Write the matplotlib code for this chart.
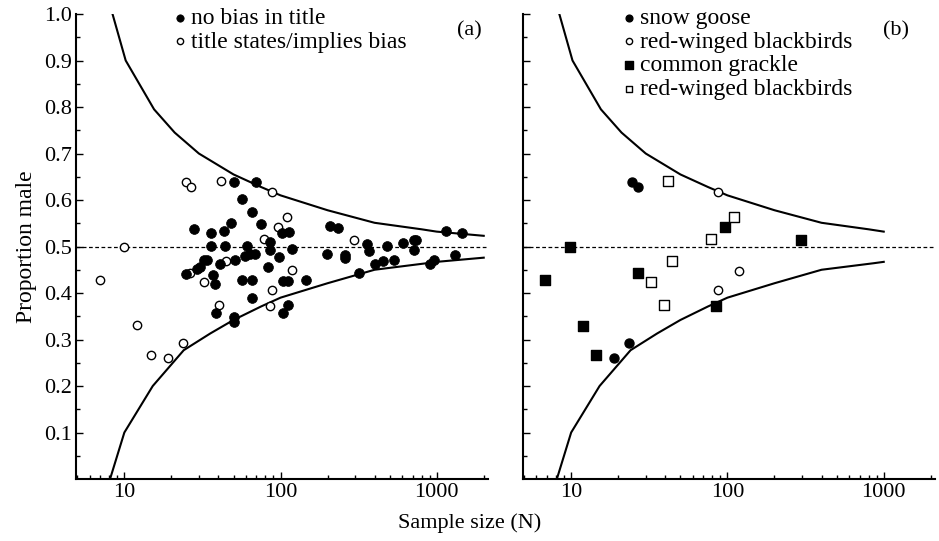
import numpy as np
import matplotlib
matplotlib.use("Agg")
import matplotlib.pyplot as plt
from matplotlib.ticker import FixedLocator, NullFormatter, LogLocator

plt.rcParams['font.family'] = ['Liberation Serif', 'DejaVu Serif']
plt.rcParams['font.size'] = 16

# confidence envelope
upper_n = [8.4, 10.2, 15.5, 21, 30, 50, 75, 100, 200, 400, 800, 1000, 2000]
upper_p = [1.0, 0.90, 0.795, 0.745, 0.70, 0.655, 0.628, 0.61, 0.578, 0.551, 0.537, 0.532, 0.523]
lower_n = [8.1, 10, 15.2, 24, 35.5, 50, 75, 100, 200, 400, 860, 1000, 2000]
lower_p = [0.0, 0.10, 0.20, 0.277, 0.313, 0.342, 0.371, 0.39, 0.421, 0.450, 0.464, 0.467, 0.476]

# panel (a)
nobias_n = [28, 35.8, 43.3, 48.5, 50.3, 69.5, 57, 65.5, 74.7, 35.8, 43.8, 61.4, 85, 86,
            59.3, 63.7, 68.6, 51.2, 40.7, 29, 30.5, 32.5, 33.9, 24.9, 37, 38, 57, 65.5,
            97.5, 83.5, 66, 38.5, 50.3, 50.5, 102, 113, 118, 104, 111, 145, 111, 103,
            207, 232, 199, 258, 260, 356, 370, 318, 402, 450, 481, 531, 604, 713, 741,
            713, 902, 961, 1303, 1143, 1459]
nobias_p = [0.537, 0.529, 0.533, 0.551, 0.639, 0.639, 0.603, 0.575, 0.548, 0.501, 0.501,
            0.501, 0.510, 0.492, 0.480, 0.483, 0.483, 0.471, 0.462, 0.451, 0.455, 0.470,
            0.471, 0.440, 0.439, 0.420, 0.429, 0.429, 0.477, 0.457, 0.389, 0.358, 0.349,
            0.338, 0.530, 0.532, 0.495, 0.426, 0.426, 0.429, 0.374, 0.356, 0.545, 0.539,
            0.484, 0.482, 0.476, 0.505, 0.490, 0.442, 0.462, 0.469, 0.501, 0.471, 0.507,
            0.514, 0.514, 0.492, 0.462, 0.471, 0.482, 0.534, 0.530]
bias_n = [7, 10, 12.1, 14.9, 18.9, 23.7, 24.9, 26.8, 26.5, 32.4, 40.3, 41.5, 44.9, 78.5,
          85, 88, 88, 96.8, 110.7, 119, 295]
bias_p = [0.429, 0.50, 0.331, 0.267, 0.261, 0.292, 0.639, 0.627, 0.444, 0.423, 0.374,
          0.641, 0.468, 0.517, 0.372, 0.406, 0.617, 0.543, 0.564, 0.449, 0.514]

# panel (b)
goose_n = [24.6, 26.7, 23.4, 18.7]
goose_p = [0.639, 0.627, 0.292, 0.261]
rwb1_n = [87.5, 118.6, 87.5]
rwb1_p = [0.617, 0.448, 0.406]
grackle_n = [6.83, 9.9, 11.9, 14.5, 26.7, 85, 96.6, 295]
grackle_p = [0.429, 0.500, 0.330, 0.266, 0.442, 0.372, 0.541, 0.514]
rwb2_n = [41.4, 110, 78, 44.2, 32.2, 39.3]
rwb2_p = [0.641, 0.564, 0.517, 0.468, 0.423, 0.374]

fig = plt.figure(figsize=(9.39, 5.41), dpi=100)
ax1 = fig.add_axes([0.0809, 0.1146, 0.4388, 0.8595])
ax2 = fig.add_axes([0.5567, 0.1146, 0.4391, 0.8595])


def style(ax, labels=True):
    ax.set_xscale('log')
    ax.set_xlim(4.9, 2130)
    ax.set_ylim(0, 1.0)
    for s in ['top', 'right']:
        ax.spines[s].set_visible(False)
    for s in ['left', 'bottom']:
        ax.spines[s].set_linewidth(1.5)
    ax.xaxis.set_major_locator(FixedLocator([10, 100, 1000]))
    ax.xaxis.set_minor_locator(LogLocator(base=10, subs=np.arange(2, 10), numticks=20))
    ax.xaxis.set_minor_formatter(NullFormatter())
    ax.set_xticklabels(['10', '100', '1000'])
    yt = np.round(np.arange(0.1, 1.01, 0.1), 1)
    ax.yaxis.set_major_locator(FixedLocator(yt))
    ax.yaxis.set_minor_locator(FixedLocator(np.arange(0.05, 1.0, 0.1)))
    if labels:
        ax.set_yticklabels(['%.1f' % v for v in yt])
    else:
        ax.set_yticklabels([])
    ax.tick_params(which='both', direction='in', width=1.0, labelsize=16)
    ax.tick_params(which='major', length=5, pad=3)
    ax.tick_params(which='minor', length=3)
    ax.axhline(0.5, color='black', lw=0.9, ls=(0, (3, 2)), zorder=1)


style(ax1)
style(ax2, labels=False)

ax1.plot(upper_n, upper_p, color='black', lw=1.5)
ax1.plot(lower_n, lower_p, color='black', lw=1.5)
ax2.plot(upper_n[:-1], upper_p[:-1], color='black', lw=1.5)
ax2.plot(lower_n[:-1], lower_p[:-1], color='black', lw=1.5)

ax1.scatter(bias_n, bias_p, s=36, facecolor='white', edgecolor='black', lw=1.0, zorder=3,
            label='title states/implies bias')
ax1.scatter(nobias_n, nobias_p, s=50, facecolor='black', edgecolor='black', lw=0.5, zorder=4,
            label='no bias in title')

ax2.scatter(goose_n, goose_p, s=42, marker='o', facecolor='black', edgecolor='black', zorder=4,
            label='snow goose')
ax2.scatter(rwb1_n, rwb1_p, s=36, marker='o', facecolor='white', edgecolor='black', lw=1.0,
            zorder=4, label='red-winged blackbirds')
ax2.scatter(grackle_n, grackle_p, s=52, marker='s', facecolor='black', edgecolor='black',
            zorder=4, label='common grackle')
ax2.scatter(rwb2_n, rwb2_p, s=42, marker='s', facecolor='white', edgecolor='black', lw=1.0,
            zorder=4, label='red-winged blackbirds')

h, l = ax1.get_legend_handles_labels()
leg_kw = dict(loc='upper left', frameon=False, handletextpad=0.1, handlelength=0.7,
              labelspacing=0.1, fontsize=17, markerscale=0.75, borderaxespad=0)
ax1.legend(h[::-1], l[::-1], bbox_to_anchor=(0.21, 1.035), **leg_kw)
ax2.legend(bbox_to_anchor=(0.215, 1.035), **leg_kw)

ax1.text(0.955, 0.985, '(a)', transform=ax1.transAxes, ha='center', va='top', fontsize=16)
ax2.text(0.905, 0.985, '(b)', transform=ax2.transAxes, ha='center', va='top', fontsize=16)

ax1.set_ylabel('Proportion male', fontsize=17, labelpad=5)
fig.text(0.5, 0.015, 'Sample size (N)', ha='center', va='bottom', fontsize=16)

fig.savefig('out.png', dpi=100)
